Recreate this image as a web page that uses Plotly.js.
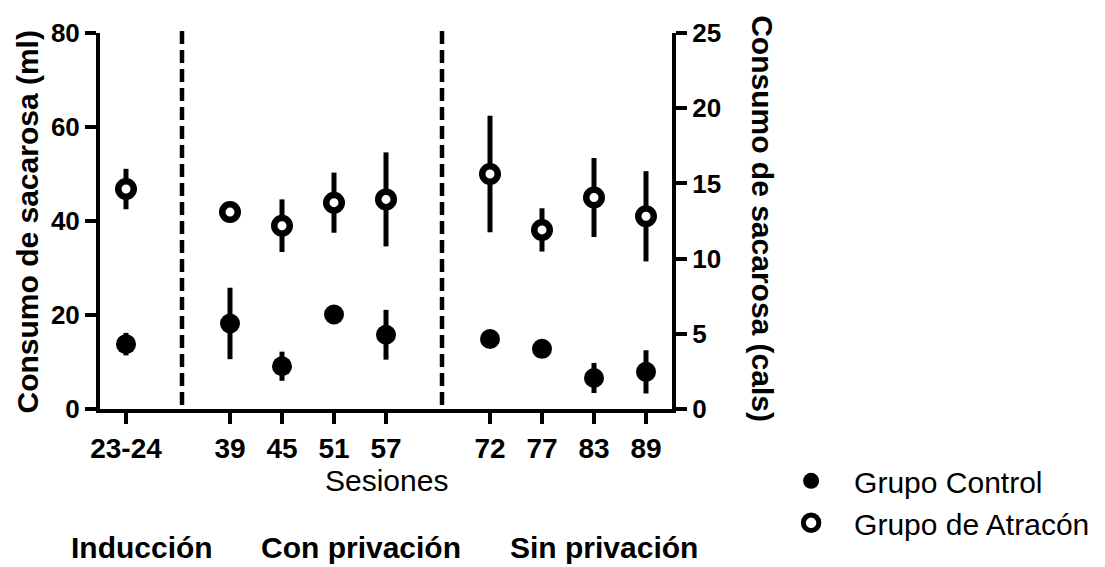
<!DOCTYPE html>
<html>
<head>
<meta charset="utf-8">
<script src="https://cdn.plot.ly/plotly-3.0.1.min.js"></script>
<style>html,body{margin:0;padding:0;background:#fff;}#chart{width:1105px;height:567px;}</style>
</head>
<body>
<div id="chart"></div>
<script>
// Sessions (tick labels) and their positions on the x axis
const sessions = ['23-24', '39', '45', '51', '57', '72', '77', '83', '89'];
const sessionPos = [0, 2, 3, 4, 5, 7, 8, 9, 10];

// Grupo Control (ml)
const controlMean = [13.8, 18.2, 9.1, 20.1, 15.8, 14.9, 12.8, 6.6, 7.9];
const controlErr  = [2.4, 7.6, 3.1, 0.6, 5.3, 0.6, 0.6, 3.2, 4.6];

// Grupo de Atracón (ml)
const atraconMean = [46.8, 41.9, 39.0, 43.9, 44.6, 50.0, 38.1, 45.0, 41.0];
const atraconErr  = [4.3, 0.8, 5.6, 6.4, 10.0, 12.4, 4.6, 8.4, 9.6];

// Right axis ticks (cals)
const calTicks = [0, 5, 10, 15, 20, 25];

// Phase labels
const phases = ['Inducción', 'Con privación', 'Sin privación'];
const phaseBreaks = [1.077, 6.077];

const FONT = 'Liberation Sans, Arial, Helvetica, sans-serif';

const traces = [
  {
    x: sessionPos, y: controlMean, name: 'Grupo Control',
    type: 'scatter', mode: 'markers',
    marker: {symbol: 'circle', size: 20, color: '#000', line: {width: 0}},
    error_y: {type: 'data', array: controlErr, visible: true, color: '#000', thickness: 5, width: 0},
    cliponaxis: false
  },
  {
    x: sessionPos, y: atraconMean, name: 'Grupo de Atracón',
    type: 'scatter', mode: 'markers',
    marker: {symbol: 'circle', size: 15.5, color: '#fff', line: {width: 6.5, color: '#000'}},
    error_y: {type: 'data', array: atraconErr, visible: true, color: '#000', thickness: 5, width: 0},
    cliponaxis: false
  },
  {
    x: [], y: [], yaxis: 'y2', type: 'scatter', mode: 'markers', showlegend: false, hoverinfo: 'skip'
  }
];

const shapes = phaseBreaks.map(b => ({
  type: 'line', xref: 'x', yref: 'paper', x0: b, x1: b, y0: 1.005, y1: 0,
  line: {color: '#000', width: 4.5, dash: '13px,6px'}
}));

const phaseX = [0.0726, 0.4563, 0.881];

const annotations = [
  {text: 'Consumo de sacarosa (ml)', xref: 'paper', yref: 'paper', x: -0.1276, y: 0.496,
   textangle: -90, showarrow: false, xanchor: 'center', yanchor: 'middle',
   font: {family: FONT, size: 30, weight: 'bold', color: '#000'}},
  {text: 'Consumo de sacarosa (cals)', xref: 'paper', yref: 'paper', x: 1.159, y: 0.505,
   textangle: 90, showarrow: false, xanchor: 'center', yanchor: 'middle',
   font: {family: FONT, size: 30, weight: 'bold', color: '#000'}},
  {text: 'Sesiones', xref: 'x', yref: 'paper', x: 5, y: -0.19, showarrow: false,
   xanchor: 'center', yanchor: 'middle', font: {family: FONT, size: 30, color: '#000'}}
];
phases.forEach((p, i) => annotations.push({
  text: p, xref: 'paper', yref: 'paper', x: phaseX[i], y: -0.368, showarrow: false,
  xanchor: 'center', yanchor: 'middle', font: {family: FONT, size: 30, weight: 'bold', color: '#000'}
}));

const axisCommon = {
  showgrid: false, zeroline: false, showline: true, linecolor: '#000', linewidth: 4,
  ticks: 'outside', ticklen: 11, tickwidth: 4, tickcolor: '#000', fixedrange: true
};

const layout = {
  width: 1105, height: 567,
  margin: {l: 100, r: 433, t: 33, b: 158, pad: 0, autoexpand: false},
  paper_bgcolor: '#fff', plot_bgcolor: '#fff',
  showlegend: true,
  legend: {x: 1.168, y: -0.122, xanchor: 'left', yanchor: 'top',
           font: {family: FONT, size: 30, color: '#000'}, bgcolor: 'rgba(0,0,0,0)',
           tracegroupgap: 0, itemwidth: 76},
  xaxis: Object.assign({}, axisCommon, {
    range: [-0.5, 10.5], tickmode: 'array', tickvals: sessionPos, ticktext: sessions,
    tickfont: {family: FONT, size: 28, weight: 'bold', color: '#000'}
  }),
  yaxis: Object.assign({}, axisCommon, {
    range: [0, 80], tickvals: [0, 20, 40, 60, 80],
    tickfont: {family: FONT, size: 26, weight: 'bold', color: '#000'}
  }),
  yaxis2: Object.assign({}, axisCommon, {
    overlaying: 'y', side: 'right', anchor: 'x', range: [0, 25], tickvals: calTicks,
    tickfont: {family: FONT, size: 26, weight: 'bold', color: '#000'}
  }),
  shapes: shapes,
  annotations: annotations
};

Plotly.newPlot('chart', traces, layout, {displayModeBar: false, staticPlot: true});
</script>
</body>
</html>
